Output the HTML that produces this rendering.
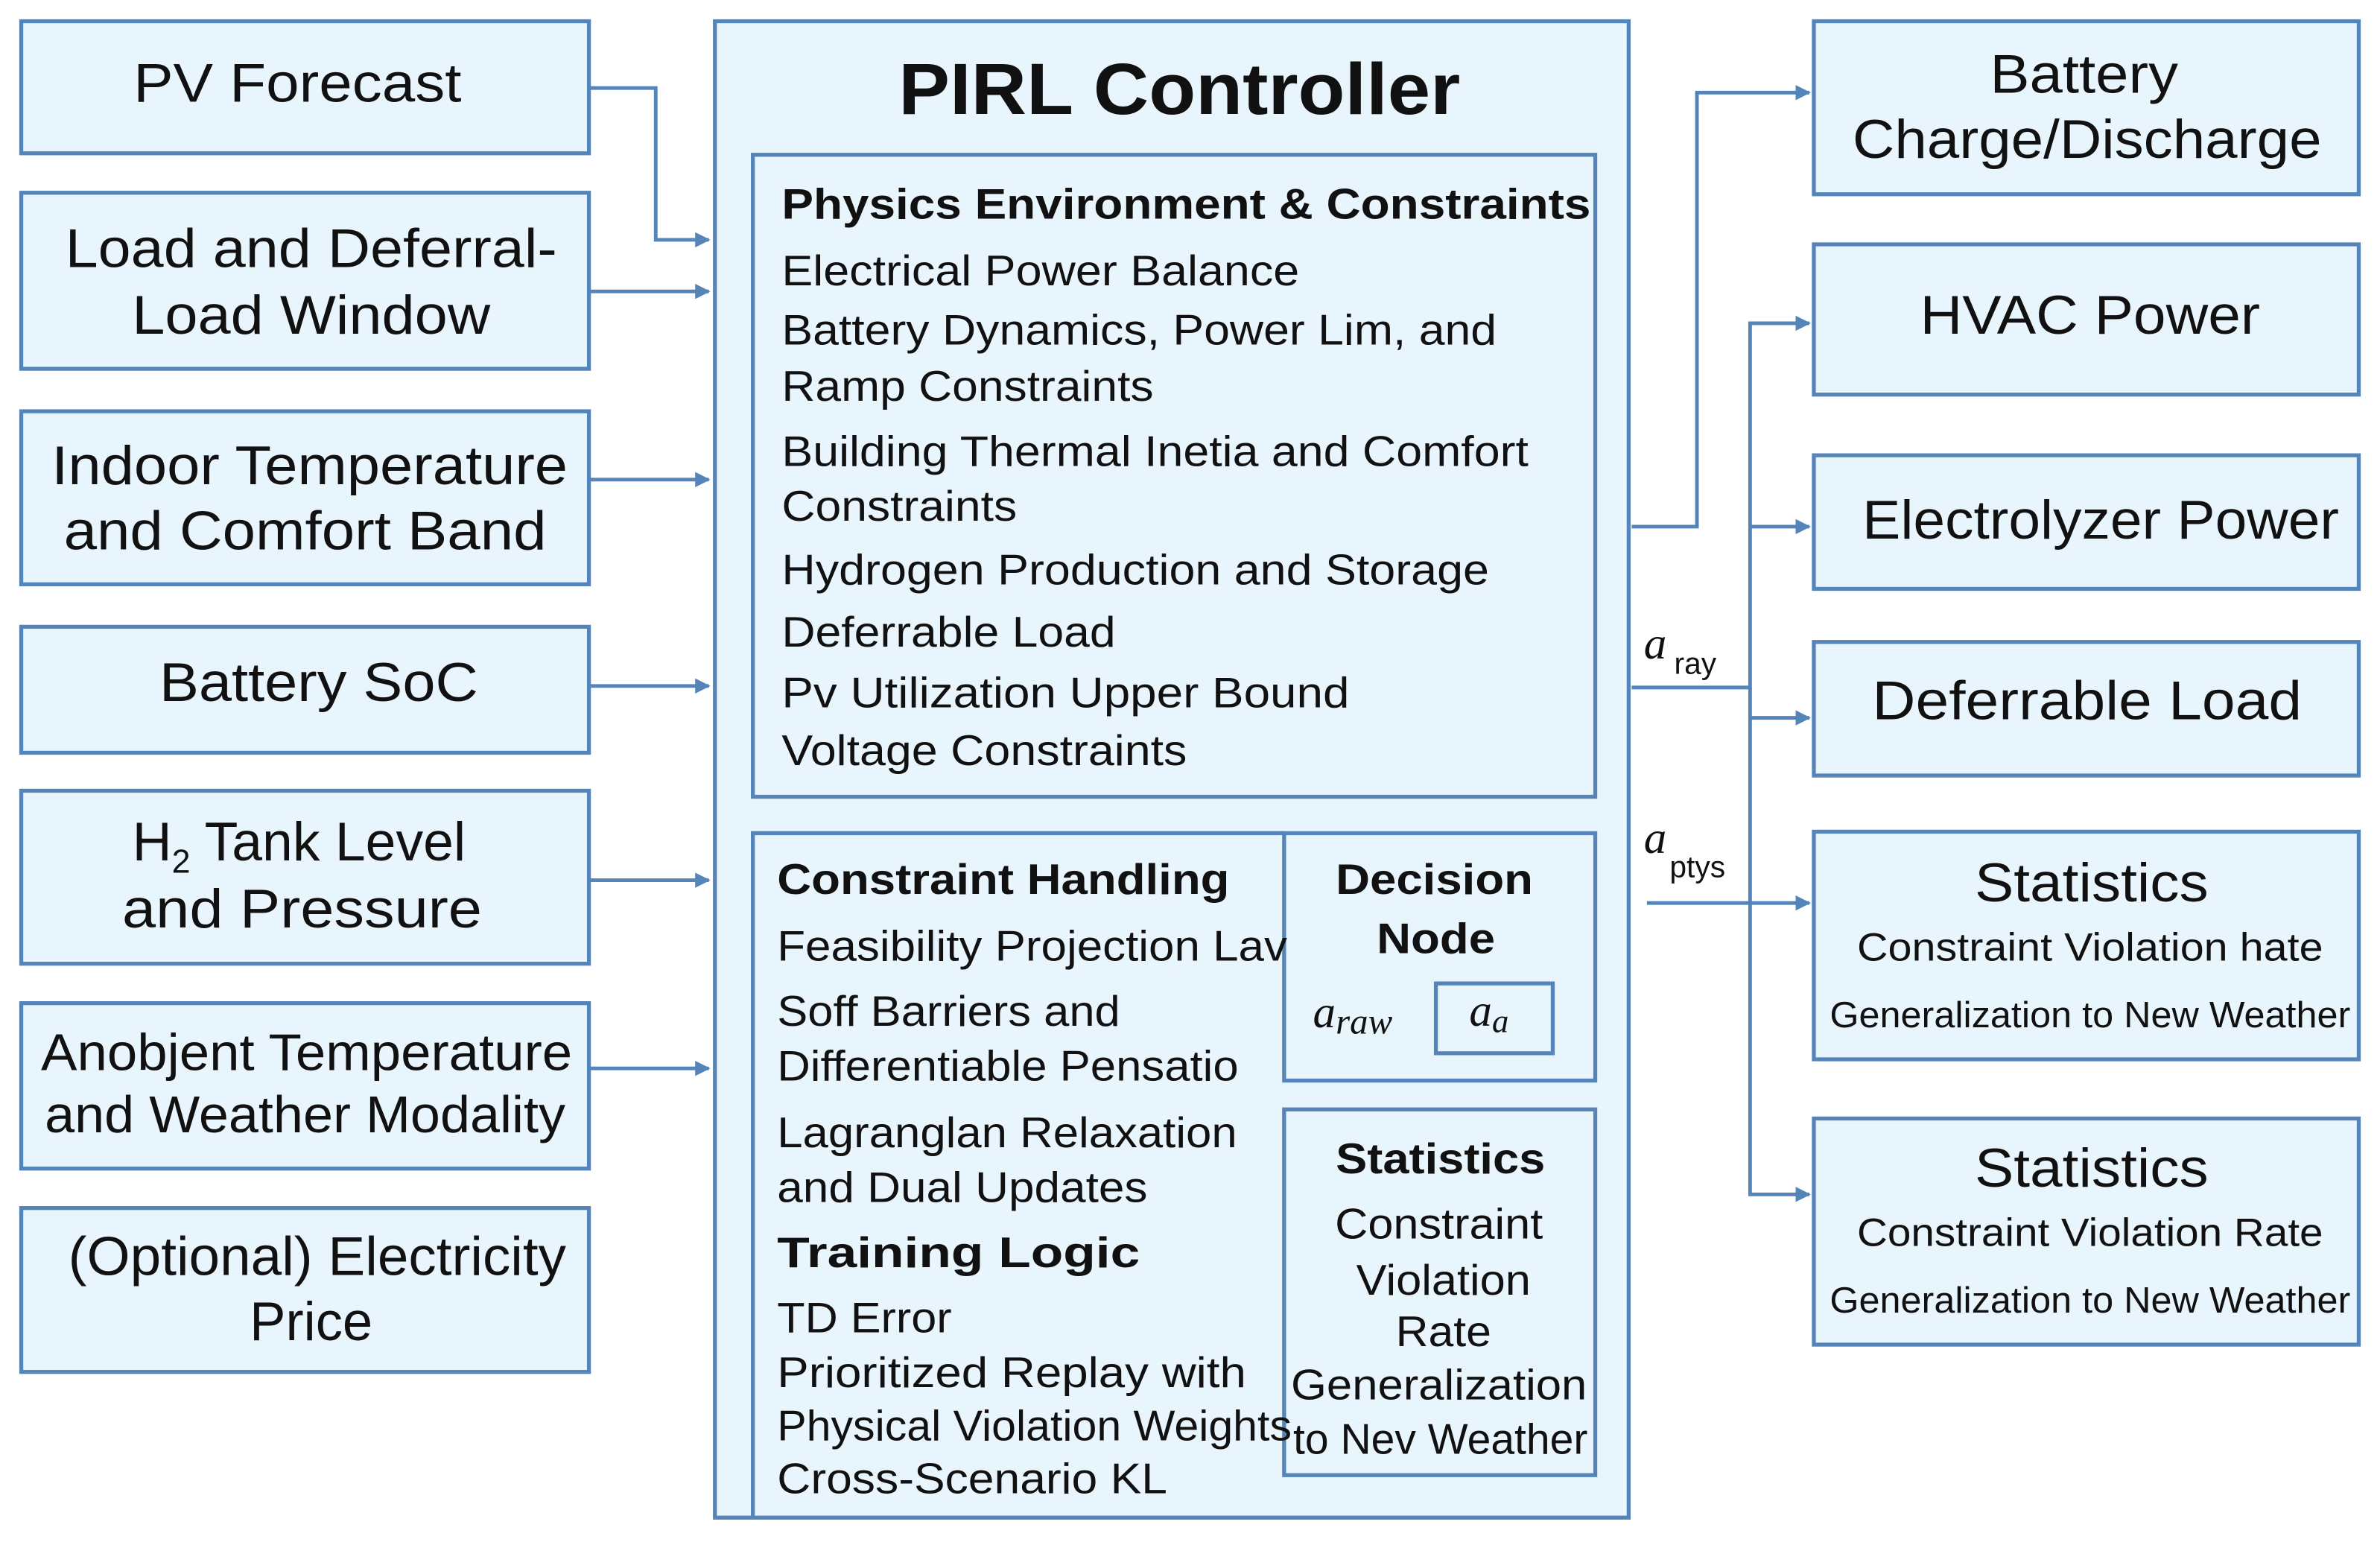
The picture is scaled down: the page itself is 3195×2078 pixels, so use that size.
<!DOCTYPE html>
<html><head><meta charset="utf-8"><style>
html,body{margin:0;padding:0;background:#fff}
svg{display:block}
text{font-family:"Liberation Sans",Arial,sans-serif;fill:#111}
</style></head><body>
<svg width="3195" height="2078" viewBox="0 0 1568 1020" preserveAspectRatio="none" xmlns="http://www.w3.org/2000/svg">
<defs>
<marker id="ar" markerWidth="10" markerHeight="10" refX="9" refY="5" orient="auto" markerUnits="userSpaceOnUse">
<path d="M0,0 L10,5 L0,10 z" fill="#5585b8"/>
</marker>
</defs>
<g fill="#e9f5fd" stroke="#5585b8" stroke-width="2.6">
<rect x="14" y="14" width="374" height="87"/>
<rect x="14" y="127" width="374" height="116"/>
<rect x="14" y="271" width="374" height="114"/>
<rect x="14" y="413" width="374" height="83"/>
<rect x="14" y="521" width="374" height="114"/>
<rect x="14" y="661" width="374" height="109"/>
<rect x="14" y="796" width="374" height="108"/>
<rect x="471" y="14" width="602" height="986"/>
<rect x="496" y="102" width="555" height="423"/>
<path d="M496,1000 V549 H846"/>
<rect x="846" y="549" width="205" height="163"/>
<rect x="946" y="648" width="77" height="46"/>
<rect x="846" y="731" width="205" height="241"/>
<rect x="1195" y="14" width="359" height="114"/>
<rect x="1195" y="161" width="359" height="99"/>
<rect x="1195" y="300" width="359" height="88"/>
<rect x="1195" y="423" width="359" height="88"/>
<rect x="1195" y="548" width="359" height="150"/>
<rect x="1195" y="737" width="359" height="149"/>
</g>
<g fill="none" stroke="#5585b8" stroke-width="2.4" marker-end="url(#ar)">
<path d="M388,58 H432 V158 H467"/>
<path d="M388,192 H467"/>
<path d="M388,316 H467"/>
<path d="M388,452 H467"/>
<path d="M388,580 H467"/>
<path d="M388,704 H467"/>
<path d="M1075,347 H1118 V61 H1192"/>
<path d="M1075,453 H1153 V213 H1192"/>
<path d="M1153,347 H1192"/>
<path d="M1153,473 H1192"/>
<path d="M1085,595 H1192"/>
<path d="M1153,453 V787 H1192"/>
</g>
<g font-size="36" text-anchor="middle" lengthAdjust="spacingAndGlyphs">
<text x="196" y="67" textLength="216" lengthAdjust="spacingAndGlyphs">PV Forecast</text>
<text x="205" y="176" textLength="324" lengthAdjust="spacingAndGlyphs">Load and Deferral-</text>
<text x="205" y="220" textLength="236" lengthAdjust="spacingAndGlyphs">Load Window</text>
<text x="204" y="319" textLength="340" lengthAdjust="spacingAndGlyphs">Indoor Temperature</text>
<text x="201" y="362" textLength="318" lengthAdjust="spacingAndGlyphs">and Comfort Band</text>
<text x="210" y="462" textLength="210" lengthAdjust="spacingAndGlyphs">Battery SoC</text>
<text x="197" y="567">H<tspan font-size="22" dy="8">2</tspan><tspan dy="-8"> Tank Level</tspan></text>
<text x="199" y="611" textLength="237" lengthAdjust="spacingAndGlyphs">and Pressure</text>
<text x="202" y="705" font-size="34" textLength="350" lengthAdjust="spacingAndGlyphs">Anobjent Temperature</text>
<text x="201" y="746" font-size="34" textLength="343" lengthAdjust="spacingAndGlyphs">and Weather Modality</text>
<text x="209" y="840" textLength="328" lengthAdjust="spacingAndGlyphs">(Optional) Electricity</text>
<text x="205" y="883" textLength="81" lengthAdjust="spacingAndGlyphs">Price</text>
<text x="1373" y="61" textLength="124" lengthAdjust="spacingAndGlyphs">Battery</text>
<text x="1375" y="104" textLength="309" lengthAdjust="spacingAndGlyphs">Charge/Discharge</text>
<text x="1377" y="220" textLength="224" lengthAdjust="spacingAndGlyphs">HVAC Power</text>
<text x="1384" y="355" textLength="314" lengthAdjust="spacingAndGlyphs">Electrolyzer Power</text>
<text x="1375" y="474" textLength="283" lengthAdjust="spacingAndGlyphs">Deferrable Load</text>
<text x="1378" y="594" textLength="154" lengthAdjust="spacingAndGlyphs">Statistics</text>
<text x="1378" y="782" textLength="154" lengthAdjust="spacingAndGlyphs">Statistics</text>
</g>
<g font-size="26" text-anchor="middle">
<text x="1377" y="633" textLength="307" lengthAdjust="spacingAndGlyphs">Constraint Violation hate</text>
<text x="1377" y="821" textLength="307" lengthAdjust="spacingAndGlyphs">Constraint Violation Rate</text>
<text x="1377" y="677" font-size="24" textLength="343" lengthAdjust="spacingAndGlyphs">Generalization to New Weather</text>
<text x="1377" y="865" font-size="24" textLength="343" lengthAdjust="spacingAndGlyphs">Generalization to New Weather</text>
</g>
<text x="777" y="75" font-size="48" font-weight="bold" text-anchor="middle" textLength="370" lengthAdjust="spacingAndGlyphs">PIRL Controller</text>
<g font-size="28">
<text x="515" y="144" font-weight="bold" textLength="533" lengthAdjust="spacingAndGlyphs">Physics Environment &amp; Constraints</text>
<text x="515" y="188" textLength="341" lengthAdjust="spacingAndGlyphs">Electrical Power Balance</text>
<text x="515" y="227" textLength="471" lengthAdjust="spacingAndGlyphs">Battery Dynamics, Power Lim, and</text>
<text x="515" y="264" textLength="245" lengthAdjust="spacingAndGlyphs">Ramp Constraints</text>
<text x="515" y="307" textLength="492" lengthAdjust="spacingAndGlyphs">Building Thermal Inetia and Comfort</text>
<text x="515" y="343" textLength="155" lengthAdjust="spacingAndGlyphs">Constraints</text>
<text x="515" y="385" textLength="466" lengthAdjust="spacingAndGlyphs">Hydrogen Production and Storage</text>
<text x="515" y="426" textLength="220" lengthAdjust="spacingAndGlyphs">Deferrable Load</text>
<text x="515" y="466" textLength="374" lengthAdjust="spacingAndGlyphs">Pv Utilization Upper Bound</text>
<text x="515" y="504" textLength="267" lengthAdjust="spacingAndGlyphs">Voltage Constraints</text>
<text x="512" y="589" font-weight="bold" textLength="298" lengthAdjust="spacingAndGlyphs">Constraint Handling</text>
<text x="512" y="633" textLength="336" lengthAdjust="spacingAndGlyphs">Feasibility Projection Lav</text>
<text x="512" y="676" textLength="226" lengthAdjust="spacingAndGlyphs">Soff Barriers and</text>
<text x="512" y="712" textLength="304" lengthAdjust="spacingAndGlyphs">Differentiable Pensatio</text>
<text x="512" y="756" textLength="303" lengthAdjust="spacingAndGlyphs">Lagranglan Relaxation</text>
<text x="512" y="792" textLength="244" lengthAdjust="spacingAndGlyphs">and Dual Updates</text>
<text x="512" y="835" font-weight="bold" textLength="239" lengthAdjust="spacingAndGlyphs">Training Logic</text>
<text x="512" y="878" textLength="115" lengthAdjust="spacingAndGlyphs">TD Error</text>
<text x="512" y="914" textLength="309" lengthAdjust="spacingAndGlyphs">Prioritized Replay with</text>
<text x="512" y="949" textLength="339" lengthAdjust="spacingAndGlyphs">Physical Violation Weights</text>
<text x="512" y="984" textLength="257" lengthAdjust="spacingAndGlyphs">Cross-Scenario KL</text>
</g>
<g font-size="28" text-anchor="middle">
<text x="945" y="589" font-weight="bold" textLength="130" lengthAdjust="spacingAndGlyphs">Decision</text>
<text x="946" y="628" font-weight="bold" textLength="78" lengthAdjust="spacingAndGlyphs">Node</text>
<text x="949" y="773" font-weight="bold" textLength="138" lengthAdjust="spacingAndGlyphs">Statistics</text>
<text x="948" y="816" textLength="137" lengthAdjust="spacingAndGlyphs">Constraint</text>
<text x="951" y="853" textLength="115" lengthAdjust="spacingAndGlyphs">Violation</text>
<text x="951" y="887" textLength="63" lengthAdjust="spacingAndGlyphs">Rate</text>
<text x="948" y="922" textLength="195" lengthAdjust="spacingAndGlyphs">Generalization</text>
<text x="949" y="958" textLength="194" lengthAdjust="spacingAndGlyphs">to Nev Weather</text>
</g>
<g font-style="italic">
<text x="865" y="677" font-size="30" style="font-family:'Liberation Serif',serif">a<tspan font-size="24" dy="4">raw</tspan></text>
<text x="968" y="676" font-size="30" style="font-family:'Liberation Serif',serif">a<tspan font-size="22" dy="4">a</tspan></text>
<text x="1083" y="434" font-size="30" style="font-family:'Liberation Serif',serif">a</text>
<text x="1083" y="562" font-size="30" style="font-family:'Liberation Serif',serif">a</text>
</g>
<text x="1103" y="444" font-size="20">ray</text>
<text x="1100" y="578" font-size="20">ptys</text>
</svg>
</body></html>
